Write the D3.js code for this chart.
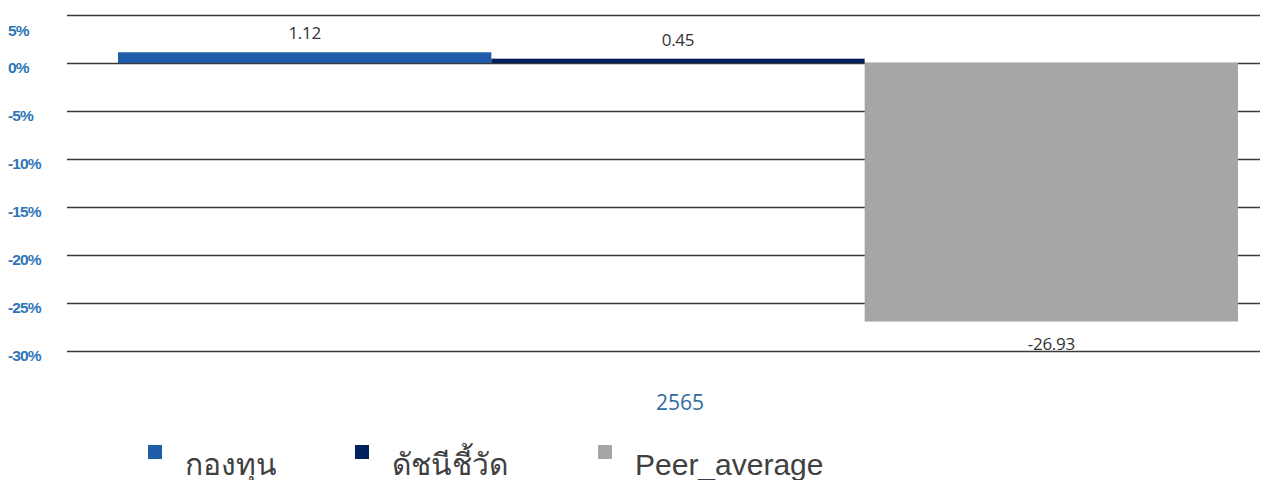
<!DOCTYPE html>
<html>
<head>
<meta charset="utf-8">
<script src="https://cdn.jsdelivr.net/npm/d3@7"></script>
<style>
  body { margin: 0; background: #fff; }
  .tick-label { font-family: "Liberation Sans", Arial, sans-serif; font-weight: bold; font-size: 15.5px; fill: #2e75b6; letter-spacing: -0.9px; }
  .value-label { font-family: "Open Sans", "Noto Sans", sans-serif; font-size: 17px; fill: #333; letter-spacing: -0.3px; }
  .cat-label { font-family: "Open Sans", "Noto Sans", sans-serif; font-size: 21px; fill: #2e6da4; }
  .legend-text { font-family: "Liberation Sans", "Noto Sans", sans-serif; font-size: 30px; fill: #404040; }
</style>
</head>
<body>
<div id="chart"></div>
<script>
var svgWidth = 1262;
var svgHeight = 480;

// data
var categories = ["2565"];
var seriesNames = ["กองทุน", "ดัชนีชี้วัด", "Peer_average"];
var seriesValues = [1.12, 0.45, -26.93];
var seriesColors = ["#215caa", "#002060", "#a6a6a6"];
var tickValues = [5, 0, -5, -10, -15, -20, -25, -30];

var svg = d3.select("#chart")
  .append("svg")
  .attr("width", svgWidth)
  .attr("height", svgHeight);

// scales
var yScale = d3.scaleLinear()
  .domain([5, -30])
  .range([15, 351]);

var xSeries = d3.scaleBand()
  .domain(seriesNames)
  .range([118, 1238]);

// gridlines
svg.append("g")
  .selectAll("line")
  .data(tickValues)
  .enter()
  .append("line")
  .attr("x1", 67)
  .attr("x2", 1260)
  .attr("y1", d => Math.round(yScale(d)) + 0.5)
  .attr("y2", d => Math.round(yScale(d)) + 0.5)
  .attr("stroke", "#3a3a3a")
  .attr("stroke-width", 1.5);

// tick labels
svg.append("g")
  .selectAll("text")
  .data(tickValues)
  .enter()
  .append("text")
  .attr("class", "tick-label")
  .attr("x", 8)
  .attr("y", d => yScale(d) + (d === 5 ? 21 : 10))
  .text(d => d + "%");

// bars
svg.append("g")
  .selectAll("rect")
  .data(seriesValues)
  .enter()
  .append("rect")
  .attr("x", (d, i) => xSeries(seriesNames[i]))
  .attr("width", xSeries.bandwidth())
  .attr("y", d => yScale(Math.max(0, d)))
  .attr("height", d => Math.abs(yScale(d) - yScale(0)))
  .attr("fill", (d, i) => seriesColors[i]);

// value labels
svg.append("g")
  .selectAll("text")
  .data(seriesValues)
  .enter()
  .append("text")
  .attr("class", "value-label")
  .attr("text-anchor", "middle")
  .attr("x", (d, i) => xSeries(seriesNames[i]) + xSeries.bandwidth() / 2)
  .attr("y", d => d >= 0 ? yScale(d) - 13 : yScale(d) + 28)
  .text(d => d.toFixed(2));

// category label
svg.append("text")
  .attr("class", "cat-label")
  .attr("text-anchor", "middle")
  .attr("x", 680)
  .attr("y", 410)
  .text(categories[0]);

// legend
var legendX = [148, 355, 598];
var legend = svg.append("g")
  .selectAll("g")
  .data(seriesNames)
  .enter()
  .append("g")
  .attr("transform", (d, i) => `translate(${legendX[i]}, 445)`);

legend.append("rect")
  .attr("width", 14)
  .attr("height", 14)
  .attr("fill", (d, i) => seriesColors[i]);

legend.append("text")
  .attr("class", "legend-text")
  .attr("x", 37)
  .attr("y", 30)
  .text(d => d);
</script>
</body>
</html>
